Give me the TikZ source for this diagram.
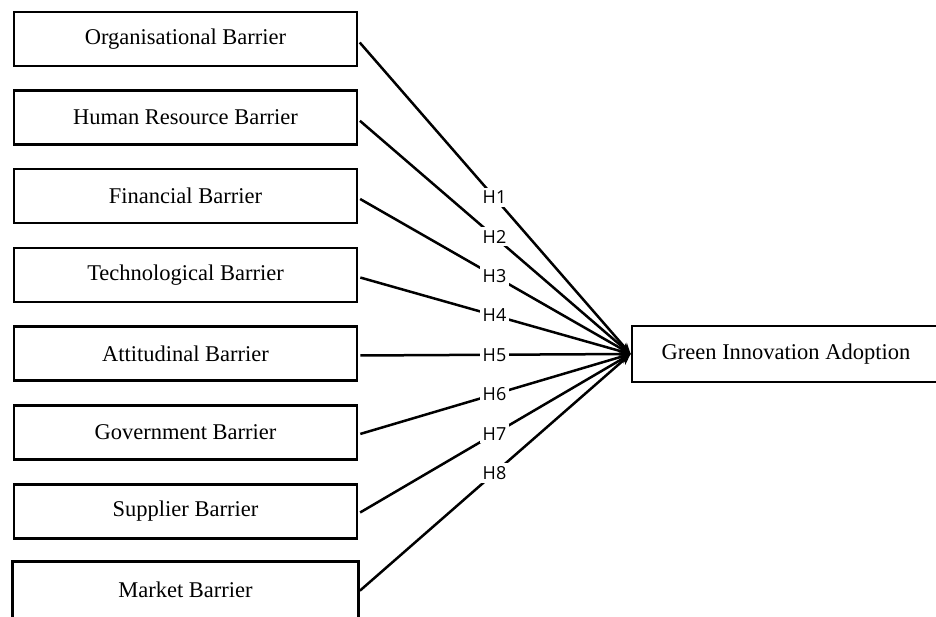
\documentclass[tikz,border=0pt]{standalone}
\usepackage{fontspec}
\setmainfont{Liberation Serif}
\newfontfamily\labfont{Open Sans}
\usetikzlibrary{arrows.meta}
\begin{document}
\begin{tikzpicture}[x=1pt,y=-1pt,
  barrier/.style={draw, line width=2.8pt, minimum width=343pt, minimum height=54pt, inner sep=0pt, font=\fontsize{22.5}{26}\selectfont},
  conn/.style={line width=2.5pt, shorten <=2pt, -{Stealth[length=11pt,width=9pt]}},
  lab/.style={fill=white, inner sep=3pt, font=\labfont\fontsize{18}{20}\selectfont}]
\useasboundingbox[fill=white] (0,0) rectangle (936,617);
\node[barrier] (b1) at (185.5,39) {Organisational Barrier};
\node[barrier] (b2) at (185.5,117.5) {Human Resource Barrier};
\node[barrier] (b3) at (185.5,196) {Financial Barrier};
\node[barrier] (b4) at (185.5,275) {Technological Barrier};
\node[barrier] (b5) at (185.5,353.5) {Attitudinal Barrier};
\node[barrier] (b6) at (185.5,432.5) {Government Barrier};
\node[barrier] (b7) at (185.5,511.5) {Supplier Barrier};
\node[barrier, draw=none] (b8) at (185.5,590) {Market Barrier};
\draw[line width=2.8pt] ([yshift=-12pt]b8.south west) -- (b8.north west) -- (b8.north east) -- ([yshift=-12pt]b8.south east);
\node[barrier, minimum width=308pt, minimum height=56pt] (g) at (786,354) {Green Innovation Adoption};
\draw[conn] ([yshift=-2pt]b1.east) -- node[lab]{H1} (g.west);
\draw[conn] ([yshift=-2pt]b2.east) -- node[lab]{H2} (g.west);
\draw[conn] ([yshift=-2pt]b3.east) -- node[lab]{H3} (g.west);
\draw[conn] ([yshift=-2pt]b4.east) -- node[lab]{H4} (g.west);
\draw[conn] ([yshift=-2pt]b5.east) -- node[lab]{H5} (g.west);
\draw[conn] ([yshift=-2pt]b6.east) -- node[lab]{H6} (g.west);
\draw[conn] ([yshift=-2pt]b7.east) -- node[lab]{H7} (g.west);
\draw[conn] ([yshift=-2pt]b8.east) -- node[lab]{H8} (g.west);
\end{tikzpicture}
\end{document}
